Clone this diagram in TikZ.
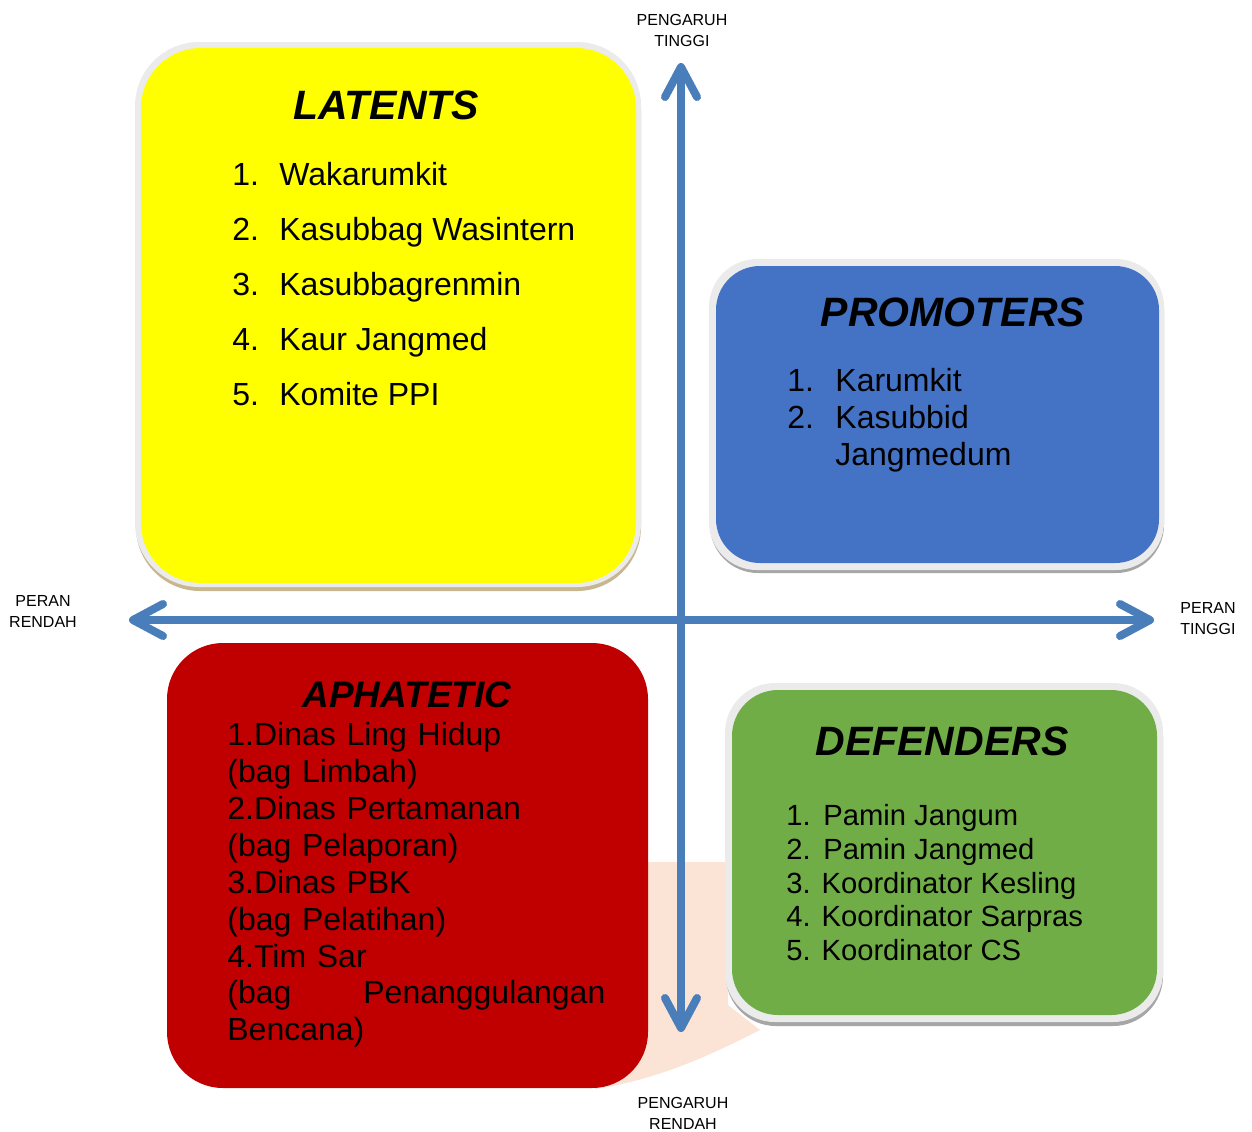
\documentclass[tikz,border=0pt]{standalone}
\usepackage{fontspec}
\setmainfont{Liberation Sans}
\usetikzlibrary{arrows.meta}

\definecolor{latentY}{HTML}{FFFF00}
\definecolor{promB}{HTML}{4472C4}
\definecolor{aphR}{HTML}{C00000}
\definecolor{defG}{HTML}{70AD47}
\definecolor{axisB}{HTML}{4A7EBB}
\definecolor{peach}{HTML}{FBE4D5}
\definecolor{rimgray}{HTML}{EBEBEB}
\definecolor{tanshade}{HTML}{C8B78E}
\definecolor{grayshade}{HTML}{A6A6A6}

\tikzset{
  quadtitle/.style={inner sep=0pt, anchor=base, font=\bfseries\itshape\fontsize{20.5}{24}\selectfont},
  quadlist/.style={inner sep=0pt, anchor=north west, align=left},
  axislabel/.style={inner sep=0pt, anchor=north, align=center, font=\fontsize{8}{10.5}\selectfont},
  axisline/.style={draw=axisB, line width=4pt,
    {Straight Barb[length=15pt,width=16pt,round]}-{Straight Barb[length=15pt,width=16pt,round]}},
}

\begin{document}
\begin{tikzpicture}[x=0.5pt,y=-0.5pt]
\useasboundingbox (0,0) rectangle (1252,1131);

% peach band between the lower quadrants
\fill[peach] (600,862) -- (728,862) -- (728,1005) -- (760,1030)
  .. controls (705,1058) and (655,1080) .. (595,1089) -- (600,862) -- cycle;

% LATENTS (yellow)
\fill[tanshade, rounded corners=32pt] (136,46) rectangle (641,591);
\fill[rimgray, rounded corners=32pt] (135,42) rectangle (641,587);
\fill[latentY, rounded corners=30pt] (141,48) rectangle (636,583);

% PROMOTERS (blue)
\fill[grayshade, rounded corners=24pt] (710,262) rectangle (1164,573);
\fill[rimgray, rounded corners=24pt] (709,259) rectangle (1164,570);
\fill[promB, rounded corners=22pt] (716,266) rectangle (1159,563);

% APHATETIC (red)
\fill[aphR, rounded corners=28pt] (167,643) rectangle (648,1088);

% DEFENDERS (green)
\fill[grayshade, rounded corners=25pt] (726,686) rectangle (1163,1026);
\fill[rimgray, rounded corners=25pt] (725,683) rectangle (1163,1022);
\fill[defG, rounded corners=23pt] (732,690) rectangle (1157,1015);

% axes
\coordinate (west) at (129,620);
\coordinate (east) at (1154,620);
\coordinate (north) at (681,63);
\coordinate (south) at (681,1032);
\draw[axisline] (west) -- (east);
\draw[axisline] (south) -- (north);

% axis labels
\node[axislabel] (hiInf) at (682,14) {PENGARUH\\TINGGI};
\node[axislabel] (loInf) at (683,1097) {PENGARUH\\RENDAH};
\node[axislabel] (loRole) at (43,595) {PERAN\\RENDAH};
\node[axislabel] (hiRole) at (1208,602) {PERAN\\TINGGI};

% LATENTS content
\node[quadtitle] (latT) at (386,119.5) {LATENTS};
\node[quadlist, font=\fontsize{16}{27.5}\selectfont] (latL) at (232,162)
  {\makebox[23.5pt][l]{1.}Wakarumkit\\
   \makebox[23.5pt][l]{2.}Kasubbag Wasintern\\
   \makebox[23.5pt][l]{3.}Kasubbagrenmin\\
   \makebox[23.5pt][l]{4.}Kaur Jangmed\\
   \makebox[23.5pt][l]{5.}Komite PPI};

% PROMOTERS content
\node[quadtitle] (proT) at (953,326.5) {PROMOTERS};
\node[quadlist, font=\fontsize{16}{18.5}\selectfont] (proL) at (787,368)
  {\makebox[24pt][l]{1.}Karumkit\\
   \makebox[24pt][l]{2.}Kasubbid\\
   \makebox[24pt][l]{}Jangmedum};

% APHATETIC content
\node[quadtitle, font=\bfseries\itshape\fontsize{18.5}{22}\selectfont] (aphT) at (407,707) {APHATETIC};
\node[quadlist, text width=189pt, font=\fontsize{16}{18.45}\selectfont] (aphL) at (227,722)
  {1.Dinas Ling Hidup\\
   (bag Limbah)\\
   2.Dinas Pertamanan\\
   (bag Pelaporan)\\
   3.Dinas PBK\\
   (bag Pelatihan)\\
   4.Tim Sar\\
   (bag\hfill Penanggulangan\\
   Bencana)};

% DEFENDERS content
\node[quadtitle] (defT) at (942,755) {DEFENDERS};
\node[quadlist, font=\fontsize{14.6}{16.9}\selectfont] (defL) at (786,804)
  {\makebox[18.5pt][l]{1.}Pamin Jangum\\
   \makebox[18.5pt][l]{2.}Pamin Jangmed\\
   3. Koordinator Kesling\\
   4. Koordinator Sarpras\\
   5. Koordinator CS};

\end{tikzpicture}
\end{document}
